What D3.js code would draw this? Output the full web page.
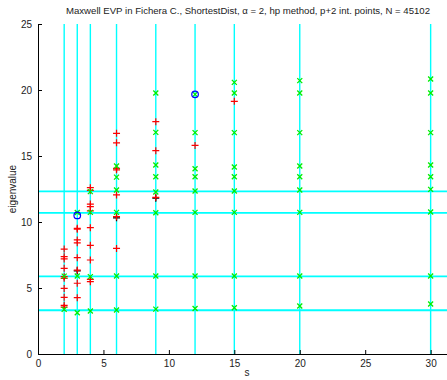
<!DOCTYPE html>
<html>
<head>
<meta charset="utf-8">
<script src="https://cdn.jsdelivr.net/npm/d3@7"></script>
<style>
  body { margin: 0; background: #fff; }
  text { font-family: "Liberation Sans", Arial, sans-serif; fill: #222; }
</style>
</head>
<body>
<figure id="evp" style="margin:0"></figure>
<script>
// polynomial degrees s (vertical guide lines)
const sLevels = [2, 3, 4, 6, 9, 12, 15, 20, 30];
// reference eigenvalues (horizontal guide lines)
const refEigen = [3.314, 5.886, 10.694, 12.316];

const xTicks = [0, 5, 10, 15, 20, 25, 30];
const yTicks = [0, 5, 10, 15, 20, 25];

// green x markers
const greenPts = [
  [2, 5.9], [2, 3.38],
  [3, 10.72], [3, 5.91], [3, 3.13],
  [4, 12.3], [4, 10.73], [4, 5.86], [4, 3.26],
  [6, 14.24], [6, 13.4], [6, 12.42], [6, 10.73], [6, 5.91], [6, 3.33],
  [9, 19.77], [9, 16.79], [9, 14.32], [9, 13.43], [9, 12.27], [9, 10.7], [9, 5.91], [9, 3.4],
  [12, 19.67], [12, 16.77], [12, 14.04], [12, 13.43], [12, 12.35], [12, 10.73], [12, 5.91], [12, 3.45],
  [15, 20.58], [15, 19.77], [15, 16.77], [15, 14.17], [15, 13.43], [15, 12.35], [15, 10.73], [15, 5.91], [15, 3.5],
  [20, 20.71], [20, 19.77], [20, 16.77], [20, 14.24], [20, 13.43], [20, 12.42], [20, 10.73], [20, 5.91], [20, 3.64],
  [30, 20.83], [30, 19.77], [30, 16.77], [30, 14.32], [30, 13.43], [30, 12.47], [30, 10.76], [30, 5.91], [30, 3.79]
];

// red + markers
const redPts = [
  [2, 7.95], [2, 7.37], [2, 7.2], [2, 6.49], [2, 5.86], [2, 5.73], [2, 4.97], [2, 4.29], [2, 3.69], [2, 3.55],
  [3, 9.52], [3, 9.45], [3, 8.64], [3, 8.42], [3, 7.3], [3, 6.36], [3, 5.36], [3, 4.27],
  [4, 12.6], [4, 12.4], [4, 11.36], [4, 11.16], [4, 10.85], [4, 9.57], [4, 8.23], [4, 7.12], [4, 5.66], [4, 5.48],
  [6, 16.72], [6, 16.0], [6, 14.07], [6, 13.95], [6, 12.05], [6, 10.4], [6, 8.0],
  [9, 17.6], [9, 15.4], [9, 11.87],
  [12, 15.8],
  [15, 19.14]
];

// black + markers
const blackPts = [[3, 6.3], [6, 10.32], [9, 11.8]];

// blue circles
const bluePts = [[3, 10.5], [12, 19.67]];

const W = 447, H = 380;
const margin = {top: 24, right: 0, bottom: 26, left: 38};

const svg = d3.select("figure#evp")
  .append("svg")
  .attr("width", W)
  .attr("height", H);

const x = d3.scaleLinear().domain([0, 31.25]).range([margin.left, W - margin.right]);
const y = d3.scaleLinear().domain([0, 25]).range([H - margin.bottom, margin.top]);

// guide lines
svg.append("g")
  .selectAll("line")
  .data(sLevels)
  .join("line")
    .attr("x1", d => x(d)).attr("x2", d => x(d))
    .attr("y1", y(0)).attr("y2", y(25))
    .attr("stroke", "#00ffff")
    .attr("stroke-width", 1.4);

svg.append("g")
  .selectAll("line")
  .data(refEigen)
  .join("line")
    .attr("x1", x(0)).attr("x2", W)
    .attr("y1", d => y(d)).attr("y2", d => y(d))
    .attr("stroke", "#00ffff")
    .attr("stroke-width", 1.8);

// axes
svg.append("g")
  .attr("transform", `translate(0,${y(0)})`)
  .call(d3.axisBottom(x).tickValues(xTicks).tickSizeInner(-4).tickSizeOuter(0).tickPadding(6))
  .call(g => g.select(".domain").attr("stroke", "#000"))
  .call(g => g.selectAll("text").attr("font-size", 10).style("font-family", "Liberation Sans, Arial, sans-serif"));

svg.append("g")
  .attr("transform", `translate(${x(0)},0)`)
  .call(d3.axisLeft(y).tickValues(yTicks).tickSizeInner(-4).tickSizeOuter(0).tickPadding(6))
  .call(g => g.select(".domain").attr("stroke", "#000"))
  .call(g => g.selectAll("text").attr("font-size", 10).style("font-family", "Liberation Sans, Arial, sans-serif"));

// markers
const plus = 3.5, cross = 2.5;

function plusMarks(data, color) {
  svg.append("g")
    .selectAll("path")
    .data(data)
    .join("path")
      .attr("d", d => `M${x(d[0]) - plus},${y(d[1])}h${2 * plus}M${x(d[0])},${y(d[1]) - plus}v${2 * plus}`)
      .attr("stroke", color)
      .attr("stroke-width", 1.2)
      .attr("fill", "none");
}

plusMarks(blackPts, "#000");
plusMarks(redPts, "#ff0000");

svg.append("g")
  .selectAll("path")
  .data(greenPts)
  .join("path")
    .attr("d", d => `M${x(d[0]) - cross},${y(d[1]) - cross}l${2 * cross},${2 * cross}M${x(d[0]) - cross},${y(d[1]) + cross}l${2 * cross},${-2 * cross}`)
    .attr("stroke", "#00ee00")
    .attr("stroke-width", 1.3)
    .attr("fill", "none");

svg.append("g")
  .selectAll("circle")
  .data(bluePts)
  .join("circle")
    .attr("cx", d => x(d[0]))
    .attr("cy", d => y(d[1]))
    .attr("r", 3.3)
    .attr("stroke", "#0000ff")
    .attr("stroke-width", 1.2)
    .attr("fill", "none");

// labels
svg.append("text")
  .attr("x", 248).attr("y", 14)
  .attr("text-anchor", "middle")
  .attr("font-size", 9.6)
  .text("Maxwell EVP in Fichera C., ShortestDist, \u03b1 = 2, hp method, p+2 int. points, N = 45102");

svg.append("text")
  .attr("x", 247).attr("y", 376)
  .attr("text-anchor", "middle")
  .attr("font-size", 10)
  .text("s");

svg.append("text")
  .attr("transform", `translate(16,${y(12.5)}) rotate(-90)`)
  .attr("text-anchor", "middle")
  .attr("font-size", 10)
  .text("eigenvalue");
</script>
</body>
</html>
